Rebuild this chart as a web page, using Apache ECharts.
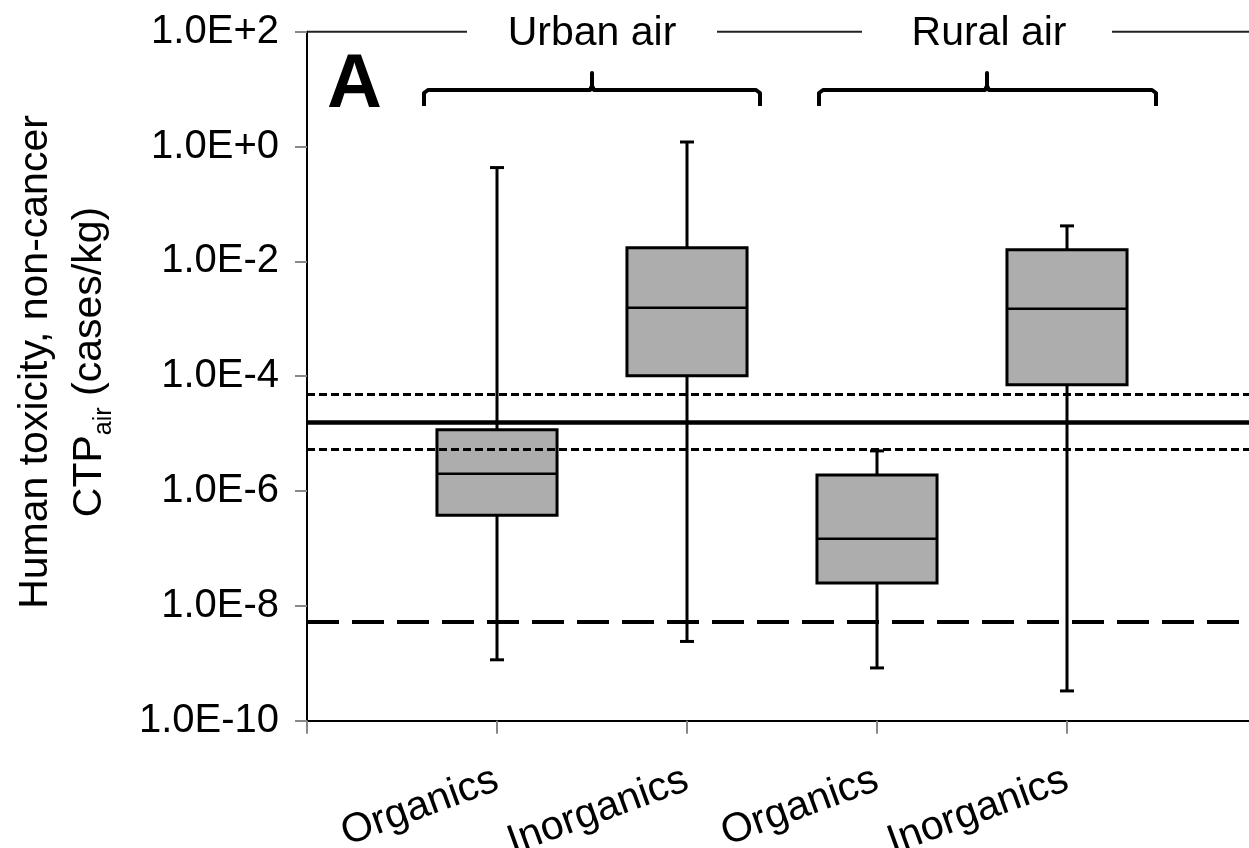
<!DOCTYPE html>
<html><head><meta charset="utf-8">
<script src="https://cdn.jsdelivr.net/npm/echarts@6/dist/echarts.min.js"></script>
<style>html,body{margin:0;padding:0;background:#fff}#c{width:1249px;height:848px}</style>
</head><body><div id="c"></div>
<script>
// ---- data ----
const categories = ['', 'Organics', 'Inorganics', 'Organics', 'Inorganics', ''];
const groupLabels = ['Urban air', 'Rural air'];
const whiskerMin = [1.15e-9, 2.4e-9, 8.3e-10, 3.3e-10];
const q1Values   = [3.8e-7, 1.02e-4, 2.5e-8, 7.1e-5];
const medians    = [2.0e-6, 1.55e-3, 1.48e-7, 1.5e-3];
const q3Values   = [1.17e-5, 1.72e-2, 1.9e-6, 1.59e-2];
const whiskerMax = [0.43, 1.2, 5.0e-6, 4.15e-2];
const refSolid  = 1.6e-5;
const refDotted = [4.9e-5, 5.2e-6];
const refDashed = 5.3e-9;
const yExpMin = -10, yExpMax = 2, yExpStep = 2;

const FONT = 'Liberation Sans, Arial, sans-serif';
const L = Math.log10;
const boxData = whiskerMin.map((v, i) => [i + 1, L(v), L(q1Values[i]), L(medians[i]), L(q3Values[i]), L(whiskerMax[i])]);

const chart = echarts.init(document.getElementById('c'), null, {renderer: 'canvas'});

function renderBox(params, api) {
  const x = api.value(0);
  const pMin = api.coord([x, api.value(1)]);
  const pQ1 = api.coord([x, api.value(2)]);
  const pMed = api.coord([x, api.value(3)]);
  const pQ3 = api.coord([x, api.value(4)]);
  const pMax = api.coord([x, api.value(5)]);
  const band = api.size([1, 0])[0];
  const bw = band * 0.632;
  const cx = pMed[0];
  const cap = 7;
  const ls = {stroke: '#000', lineWidth: 3};
  return {
    type: 'group',
    children: [
      {type: 'line', shape: {x1: cx, y1: pMax[1], x2: cx, y2: pMin[1]}, style: ls},
      {type: 'line', shape: {x1: cx - cap, y1: pMax[1], x2: cx + cap, y2: pMax[1]}, style: ls},
      {type: 'line', shape: {x1: cx - cap, y1: pMin[1], x2: cx + cap, y2: pMin[1]}, style: ls},
      {type: 'rect', shape: {x: cx - bw / 2, y: pQ3[1], width: bw, height: pQ1[1] - pQ3[1]},
        style: {fill: '#adadad', stroke: '#000', lineWidth: 3}},
      {type: 'line', shape: {x1: cx - bw / 2, y1: pMed[1], x2: cx + bw / 2, y2: pMed[1]}, style: {stroke: '#000', lineWidth: 2.5}}
    ]
  };
}

function bracket(x1, x2, xm) {
  return {
    type: 'polyline',
    shape: {points: [[x1, 106], [x1, 93], [x1 + 4, 90], [xm - 2, 90], [xm, 86], [xm, 73], [xm, 86], [xm + 2, 90], [x2 - 4, 90], [x2, 93], [x2, 106]]},
    style: {stroke: '#000', lineWidth: 4, fill: null, lineJoin: 'round'}
  };
}

const option = {
  animation: false,
  backgroundColor: '#fff',
  grid: {left: 307, right: -8, top: 31.7, bottom: 127.3, containLabel: false, outerBoundsMode: 'none'},
  xAxis: {
    type: 'category', data: categories, boundaryGap: false,
    axisLine: {onZero: false, lineStyle: {color: '#000', width: 2}},
    axisTick: {show: true, length: 13, interval: 0, lineStyle: {color: '#888', width: 2}},
    axisLabel: {interval: 0, rotate: 20, fontSize: 41, color: '#000', fontFamily: FONT, margin: 58},
    splitLine: {show: false}
  },
  yAxis: {
    type: 'value', min: yExpMin, max: yExpMax, interval: yExpStep,
    axisLine: {show: true, lineStyle: {color: '#000', width: 2}},
    axisTick: {show: true, length: 12, lineStyle: {color: '#888', width: 2}},
    axisLabel: {fontSize: 40, color: '#000', fontFamily: FONT, margin: 28,
      formatter: v => '1.0E' + (v >= 0 ? '+' : '') + v},
    splitLine: {show: false}
  },
  series: [{
    type: 'custom',
    renderItem: renderBox,
    encode: {x: 0, y: [1, 2, 3, 4, 5]},
    data: boxData,
    clip: false,
    z: 2,
    markLine: {
      silent: true, symbol: 'none', label: {show: false}, z: 5,
      data: [
        {yAxis: L(refSolid), lineStyle: {color: '#000', width: 4.5, type: 'solid'}},
        {yAxis: L(refDotted[0]), lineStyle: {color: '#000', width: 3, type: [8, 4]}},
        {yAxis: L(refDotted[1]), lineStyle: {color: '#000', width: 3, type: [8, 4]}},
        {yAxis: L(refDashed), lineStyle: {color: '#000', width: 4, type: [32, 13]}}
      ]
    }
  }],
  graphic: [
    {type: 'line', shape: {x1: 307, y1: 31.7, x2: 467, y2: 31.7}, style: {stroke: '#222', lineWidth: 2}},
    {type: 'line', shape: {x1: 717, y1: 31.7, x2: 862, y2: 31.7}, style: {stroke: '#222', lineWidth: 2}},
    {type: 'line', shape: {x1: 1112, y1: 31.7, x2: 1249, y2: 31.7}, style: {stroke: '#222', lineWidth: 2}},
    {type: 'text', x: 592, y: 34, style: {text: groupLabels[0], font: '41px ' + FONT, fill: '#000', textAlign: 'center', textVerticalAlign: 'middle'}},
    {type: 'text', x: 989, y: 34, style: {text: groupLabels[1], font: '41px ' + FONT, fill: '#000', textAlign: 'center', textVerticalAlign: 'middle'}},
    bracket(424, 760, 592),
    bracket(819, 1156, 987),
    {type: 'text', x: 327, y: 86, style: {text: 'A', font: 'bold 76px ' + FONT, fill: '#000', textAlign: 'left', textVerticalAlign: 'middle'}},
    {type: 'text', x: 63, y: 362, rotation: Math.PI / 2,
      style: {
        text: '{a|Human toxicity, non-cancer}\n{a|CTP}{s|air}{a| (cases/kg)}',
        textAlign: 'center', textVerticalAlign: 'middle', fill: '#000',
        rich: {
          a: {fontSize: 41, fontFamily: FONT, lineHeight: 54, verticalAlign: 'middle', fill: '#000'},
          s: {fontSize: 25, fontFamily: FONT, lineHeight: 54, verticalAlign: 'bottom', fill: '#000'}
        }
      }}
  ]
};
chart.setOption(option);
</script>
</body></html>
